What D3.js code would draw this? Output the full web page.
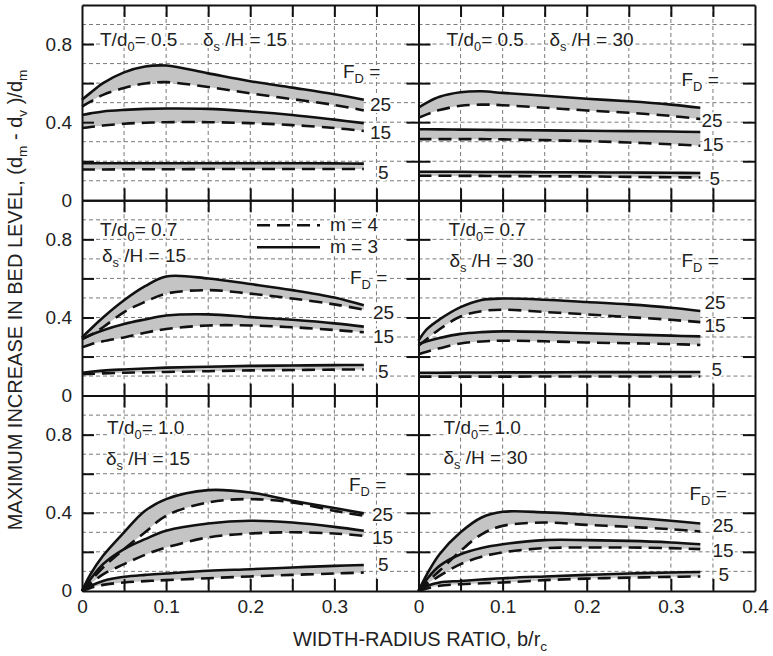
<!DOCTYPE html>
<html>
<head>
<meta charset="utf-8">
<script src="https://cdn.jsdelivr.net/npm/d3@7"></script>
<style>
body { margin: 0; background: #fff; }
svg { font-family: "Liberation Sans", Arial, sans-serif; }
</style>
</head>
<body>
<svg width="773" height="656"></svg>
<script>
// width-radius ratio b/rc where the curves were read
var bValues = [0, 0.01, 0.025, 0.05, 0.075, 0.1, 0.15, 0.2, 0.25, 0.3, 0.335];
var fdValues = [25, 15, 5];
var xLabelsLeft = [0, 0.1, 0.2, 0.3];
var xLabelsRight = [0, 0.1, 0.2, 0.3, 0.4];
var yLabels = [0, 0.4, 0.8];

// each array: [F_D = 25, F_D = 15, F_D = 5]
// T/d0 = 0.5, ds/H = 15
var t05d15_m3 = [
	[0.515, 0.55, 0.60, 0.655, 0.685, 0.69, 0.65, 0.61, 0.577, 0.543, 0.515],
	[0.437, 0.445, 0.455, 0.463, 0.468, 0.47, 0.468, 0.455, 0.437, 0.413, 0.395],
	[0.19, 0.19, 0.19, 0.19, 0.19, 0.19, 0.19, 0.19, 0.19, 0.189, 0.188]
];
var t05d15_m4 = [
	[0.48, 0.505, 0.54, 0.575, 0.598, 0.605, 0.58, 0.548, 0.518, 0.488, 0.46],
	[0.37, 0.375, 0.383, 0.392, 0.397, 0.4, 0.4, 0.395, 0.385, 0.37, 0.355],
	[0.158, 0.158, 0.158, 0.159, 0.159, 0.159, 0.16, 0.16, 0.16, 0.16, 0.16]
];
// T/d0 = 0.5, ds/H = 30
var t05d30_m3 = [
	[0.474, 0.50, 0.53, 0.553, 0.558, 0.55, 0.535, 0.52, 0.507, 0.49, 0.474],
	[0.364, 0.364, 0.363, 0.362, 0.361, 0.36, 0.358, 0.356, 0.354, 0.352, 0.35],
	[0.146, 0.146, 0.146, 0.146, 0.145, 0.145, 0.144, 0.143, 0.142, 0.141, 0.14]
];
var t05d30_m4 = [
	[0.423, 0.44, 0.462, 0.484, 0.49, 0.487, 0.474, 0.46, 0.448, 0.432, 0.416],
	[0.313, 0.313, 0.313, 0.313, 0.313, 0.312, 0.308, 0.303, 0.296, 0.287, 0.279],
	[0.126, 0.126, 0.126, 0.125, 0.125, 0.124, 0.123, 0.122, 0.12, 0.118, 0.117]
];
// T/d0 = 0.7, ds/H = 15
var t07d15_m3 = [
	[0.298, 0.34, 0.40, 0.488, 0.56, 0.61, 0.60, 0.571, 0.54, 0.502, 0.462],
	[0.29, 0.31, 0.335, 0.367, 0.39, 0.41, 0.416, 0.402, 0.388, 0.37, 0.353],
	[0.117, 0.122, 0.128, 0.134, 0.139, 0.143, 0.148, 0.152, 0.154, 0.156, 0.157]
];
var t07d15_m4 = [
	[0.29, 0.31, 0.35, 0.428, 0.48, 0.522, 0.54, 0.522, 0.497, 0.467, 0.44],
	[0.247, 0.262, 0.278, 0.298, 0.322, 0.341, 0.359, 0.359, 0.35, 0.336, 0.324],
	[0.109, 0.111, 0.114, 0.117, 0.119, 0.121, 0.125, 0.129, 0.131, 0.133, 0.134]
];
// T/d0 = 0.7, ds/H = 30
var t07d30_m3 = [
	[0.281, 0.34, 0.39, 0.453, 0.49, 0.497, 0.491, 0.479, 0.467, 0.45, 0.433],
	[0.264, 0.278, 0.295, 0.316, 0.325, 0.329, 0.326, 0.319, 0.313, 0.307, 0.303],
	[0.117, 0.117, 0.117, 0.118, 0.118, 0.119, 0.119, 0.12, 0.12, 0.121, 0.121]
];
var t07d30_m4 = [
	[0.255, 0.29, 0.34, 0.405, 0.432, 0.44, 0.428, 0.416, 0.402, 0.388, 0.376],
	[0.212, 0.225, 0.242, 0.267, 0.277, 0.281, 0.278, 0.272, 0.268, 0.264, 0.259],
	[0.097, 0.097, 0.097, 0.097, 0.097, 0.097, 0.098, 0.098, 0.098, 0.098, 0.098]
];
// T/d0 = 1.0, ds/H = 15
var t10d15_m3 = [
	[0, 0.085, 0.18, 0.30, 0.41, 0.47, 0.516, 0.504, 0.462, 0.424, 0.397],
	[0, 0.06, 0.137, 0.214, 0.265, 0.308, 0.345, 0.359, 0.35, 0.328, 0.308],
	[0, 0.025, 0.051, 0.072, 0.082, 0.089, 0.103, 0.111, 0.12, 0.128, 0.133]
];
var t10d15_m4 = [
	[0, 0.05, 0.12, 0.214, 0.30, 0.385, 0.453, 0.47, 0.453, 0.41, 0.385],
	[0, 0.035, 0.085, 0.137, 0.185, 0.222, 0.274, 0.294, 0.3, 0.294, 0.282],
	[0, 0.015, 0.031, 0.043, 0.05, 0.055, 0.065, 0.074, 0.082, 0.089, 0.094]
];
// T/d0 = 1.0, ds/H = 30
var t10d30_m3 = [
	[0, 0.085, 0.188, 0.30, 0.376, 0.405, 0.402, 0.39, 0.376, 0.359, 0.345],
	[0, 0.06, 0.128, 0.188, 0.22, 0.239, 0.26, 0.26, 0.256, 0.248, 0.239],
	[0, 0.025, 0.043, 0.051, 0.058, 0.065, 0.074, 0.082, 0.089, 0.094, 0.097]
];
var t10d30_m4 = [
	[0, 0.045, 0.103, 0.205, 0.29, 0.333, 0.35, 0.338, 0.328, 0.316, 0.304],
	[0, 0.035, 0.077, 0.137, 0.175, 0.197, 0.219, 0.222, 0.222, 0.219, 0.214],
	[0, 0.012, 0.026, 0.034, 0.039, 0.043, 0.055, 0.063, 0.068, 0.072, 0.074]
];

var svg = d3.select("svg"),
	panelW = 336.5,
	panelH = 195.3,
	left0 = 82,
	top0 = 5,
	fontSize = 19;

svg.append("rect").attr("width", 773).attr("height", 656).attr("fill", "#fff");

var x = d3.scaleLinear().domain([0, 0.4]).range([0, panelW]),
	y = d3.scaleLinear().domain([0, 1]).range([panelH, 0]);

// annotation positions in px inside each panel
var panels = [
	{col: 0, row: 0, t: "0.5", d: "15", m3: t05d15_m3, m4: t05d15_m4,
		tPos: [18, 41], dPos: [121, 41], fd: [261, 73], nums: [[288, 106], [288, 134], [296, 174]]},
	{col: 1, row: 0, t: "0.5", d: "30", m3: t05d30_m3, m4: t05d30_m4,
		tPos: [28, 41], dPos: [131, 41], fd: [263, 81], nums: [[283, 122], [284, 146], [291, 180]]},
	{col: 0, row: 1, t: "0.7", d: "15", m3: t07d15_m3, m4: t07d15_m4,
		tPos: [18, 36], dPos: [20, 62], fd: [268, 84], nums: [[291, 119], [291, 143], [296, 178]], legend: true},
	{col: 1, row: 1, t: "0.7", d: "30", m3: t07d30_m3, m4: t07d30_m4,
		tPos: [30, 36], dPos: [31, 67], fd: [263, 67], nums: [[286, 109], [286, 132], [293, 176]]},
	{col: 0, row: 2, t: "1.0", d: "15", m3: t10d15_m3, m4: t10d15_m4,
		tPos: [25, 38], dPos: [24, 69], fd: [267, 95], nums: [[290, 125], [290, 148], [296, 175]]},
	{col: 1, row: 2, t: "1.0", d: "30", m3: t10d30_m3, m4: t10d30_m4,
		tPos: [25, 38], dPos: [25, 68], fd: [271, 104], nums: [[294, 136], [294, 161], [300, 185]]}
];

var line = d3.line()
	.x(function(d, i) { return x(bValues[i]); })
	.y(function(d) { return y(d); })
	.curve(d3.curveCatmullRom.alpha(0.5));

var band = d3.area()
	.x(function(d) { return x(d.b); })
	.y0(function(d) { return y(d.lo); })
	.y1(function(d) { return y(d.hi); })
	.curve(d3.curveCatmullRom.alpha(0.5));

function halo(sel) {
	sel.attr("stroke", "#fff").attr("stroke-width", 4)
		.attr("paint-order", "stroke").attr("stroke-linejoin", "round");
}

// text with a subscript: parts = [[text, isSub], ...]
function subText(g, px, py, parts, size) {
	var t = g.append("text")
		.attr("x", px).attr("y", py)
		.attr("font-size", size)
		.attr("fill", "#222");
	halo(t);
	var shift = 0;
	parts.forEach(function(p) {
		var dy = 0;
		if (p[1] && shift === 0) { dy = 5; shift = 5; }
		else if (!p[1] && shift !== 0) { dy = -5; shift = 0; }
		t.append("tspan")
			.attr("dy", dy)
			.attr("font-size", p[1] ? size * 0.68 : size)
			.text(p[0]);
	});
	return t;
}

panels.forEach(function(p) {
	var g = svg.append("g")
		.attr("transform", "translate(" + (left0 + p.col * panelW) + "," + (top0 + p.row * panelH) + ")");

	// dashed grid
	g.selectAll(".hgrid")
		.data(d3.range(1, 10).map(function(i) { return i / 10; }))
		.enter().append("line")
		.attr("x1", 0).attr("x2", panelW)
		.attr("y1", function(d) { return y(d); })
		.attr("y2", function(d) { return y(d); })
		.attr("stroke", "#7a7a7a").attr("stroke-width", 1).attr("stroke-dasharray", "4,3");
	g.selectAll(".vgrid")
		.data(d3.range(1, 8).map(function(i) { return i * 0.05; }))
		.enter().append("line")
		.attr("y1", 0).attr("y2", panelH)
		.attr("x1", function(d) { return x(d); })
		.attr("x2", function(d) { return x(d); })
		.attr("stroke", "#7a7a7a").attr("stroke-width", 1).attr("stroke-dasharray", "4,3");

	// grey band between m = 3 and m = 4
	fdValues.forEach(function(fd, k) {
		var pts = bValues.map(function(b, i) {
			return {b: b, lo: p.m4[k][i], hi: p.m3[k][i]};
		});
		g.append("path").datum(pts)
			.attr("d", band)
			.attr("fill", "#c4c4c4");
	});
	fdValues.forEach(function(fd, k) {
		g.append("path").datum(p.m4[k])
			.attr("d", line)
			.attr("fill", "none").attr("stroke", "#111")
			.attr("stroke-width", 2.6).attr("stroke-dasharray", "13,7");
		g.append("path").datum(p.m3[k])
			.attr("d", line)
			.attr("fill", "none").attr("stroke", "#111")
			.attr("stroke-width", 2.6);
	});

	// frame with inward ticks
	var xt = d3.range(1, 8).map(function(i) { return i * 0.05; }),
		yt = [0.2, 0.4, 0.6, 0.8];
	var axes = [
		g.append("g").call(d3.axisTop(x).tickValues(xt).tickSize(-12).tickSizeOuter(0).tickFormat("")),
		g.append("g").attr("transform", "translate(0," + panelH + ")")
			.call(d3.axisBottom(x).tickValues(xt).tickSize(-12).tickSizeOuter(0).tickFormat("")),
		g.append("g").attr("transform", "translate(" + panelW + ",0)")
			.call(d3.axisRight(y).tickValues(yt).tickSize(-12).tickSizeOuter(0).tickFormat("")),
		g.append("g")
			.call(d3.axisLeft(y).tickValues(yt).tickSize(-12).tickSizeOuter(0).tickFormat(""))
	];
	axes.forEach(function(a) {
		a.selectAll("path, line").attr("stroke", "#111").attr("stroke-width", 2);
	});

	if (p.col === 0) {
		var yl = g.append("g")
			.call(d3.axisLeft(y).tickValues(yLabels).tickSize(0).tickPadding(10)
				.tickFormat(function(d) { return d === 0 ? "0" : d3.format(".1f")(d); }));
		yl.select(".domain").remove();
		yl.selectAll("text").attr("font-size", fontSize).attr("fill", "#222")
			.attr("font-family", "Liberation Sans, Arial, sans-serif");
	}
	if (p.row === 2) {
		var xl = g.append("g").attr("transform", "translate(0," + panelH + ")")
			.call(d3.axisBottom(x).tickValues(p.col === 0 ? xLabelsLeft : xLabelsRight)
				.tickSize(0).tickPadding(9)
				.tickFormat(function(d) { return d === 0 ? "0" : d3.format(".1f")(d); }));
		xl.select(".domain").remove();
		xl.selectAll("text").attr("font-size", fontSize).attr("fill", "#222")
			.attr("font-family", "Liberation Sans, Arial, sans-serif");
	}

	// annotations
	subText(g, p.tPos[0], p.tPos[1], [["T/d", false], ["0", true], ["= " + p.t, false]], fontSize);
	subText(g, p.dPos[0], p.dPos[1], [["\u03b4", false], ["s", true], [" /H = " + p.d, false]], fontSize);
	subText(g, p.fd[0], p.fd[1], [["F", false], ["D", true], [" =", false]], fontSize);
	fdValues.forEach(function(fd, k) {
		var t = g.append("text")
			.attr("x", p.nums[k][0]).attr("y", p.nums[k][1])
			.attr("font-size", fontSize).attr("fill", "#222")
			.text(fd);
		halo(t);
	});

	if (p.legend) {
		var lg = g.append("g");
		lg.append("line").attr("x1", 175).attr("x2", 238).attr("y1", 25).attr("y2", 25)
			.attr("stroke", "#111").attr("stroke-width", 2.6).attr("stroke-dasharray", "13,7");
		lg.append("line").attr("x1", 175).attr("x2", 238).attr("y1", 47).attr("y2", 47)
			.attr("stroke", "#111").attr("stroke-width", 2.6);
		halo(lg.append("text").attr("x", 248).attr("y", 31).attr("font-size", fontSize)
			.attr("fill", "#222").text("m = 4"));
		halo(lg.append("text").attr("x", 248).attr("y", 53).attr("font-size", fontSize)
			.attr("fill", "#222").text("m = 3"));
	}
});

// axis titles
subText(svg.append("g").attr("transform", "translate(420,646)"), 0, 0,
	[["WIDTH-RADIUS RATIO, b/r", false], ["c", true]], 20)
	.attr("text-anchor", "middle").attr("stroke", "none");

subText(svg.append("g").attr("transform", "translate(22,300) rotate(-90)"), 0, 0,
	[["MAXIMUM INCREASE IN BED LEVEL, (d", false], ["m", true], [" - d", false], ["v", true],
	 [" )/d", false], ["m", true]], 20)
	.attr("text-anchor", "middle").attr("stroke", "none");
</script>
</body>
</html>
